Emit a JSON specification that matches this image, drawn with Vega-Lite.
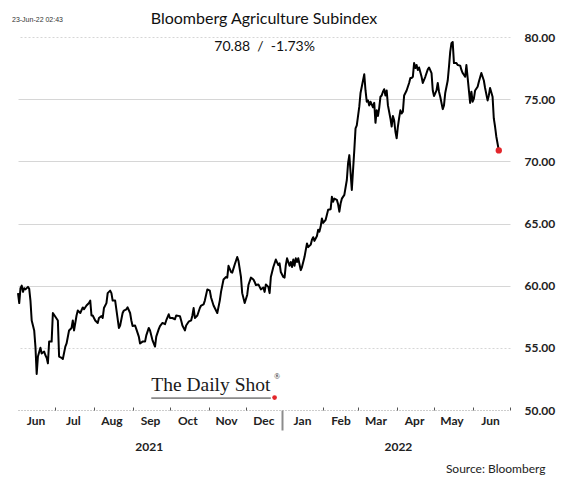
{
  "$schema": "https://vega.github.io/schema/vega-lite/v6.json",
  "width": 492,
  "height": 373,
  "autosize": {"type": "none"},
  "padding": {"left": 18, "top": 37, "right": 54, "bottom": 67},
  "background": "white",
  "config": {"view": {"stroke": null}, "font": "Lato"},
  "title": {"text": "Bloomberg Agriculture Subindex", "fontSize": 16, "fontWeight": "normal", "font": "Lato", "color": "#111", "anchor": "middle", "frame": "group", "baseline": "alphabetic", "offset": -24},
  "data": {"values": [
    {"date": "2021-06-01", "value": 59.4}, {"date": "2021-06-02", "value": 58.6}, {"date": "2021-06-03", "value": 59.8}, {"date": "2021-06-04", "value": 60.0}, {"date": "2021-06-05", "value": 59.5}, {"date": "2021-06-06", "value": 59.8}, {"date": "2021-06-07", "value": 59.7}, {"date": "2021-06-09", "value": 59.9}, {"date": "2021-06-10", "value": 59.75}, {"date": "2021-06-11", "value": 58.8}, {"date": "2021-06-12", "value": 57.2}, {"date": "2021-06-14", "value": 56.4}, {"date": "2021-06-15", "value": 55.1}, {"date": "2021-06-16", "value": 52.9}, {"date": "2021-06-17", "value": 54.3}, {"date": "2021-06-19", "value": 55.0}, {"date": "2021-06-20", "value": 54.55}, {"date": "2021-06-22", "value": 54.7}, {"date": "2021-06-23", "value": 54.4}, {"date": "2021-06-24", "value": 54.2}, {"date": "2021-06-25", "value": 53.75}, {"date": "2021-06-26", "value": 55.5}, {"date": "2021-06-28", "value": 55.5}, {"date": "2021-06-29", "value": 57.8},
    {"date": "2021-07-01", "value": 57.5}, {"date": "2021-07-03", "value": 57.2}, {"date": "2021-07-04", "value": 54.3}, {"date": "2021-07-06", "value": 54.2}, {"date": "2021-07-07", "value": 54.1}, {"date": "2021-07-09", "value": 55.1}, {"date": "2021-07-10", "value": 55.35}, {"date": "2021-07-12", "value": 56.4}, {"date": "2021-07-14", "value": 56.6}, {"date": "2021-07-15", "value": 57.2}, {"date": "2021-07-16", "value": 56.4}, {"date": "2021-07-18", "value": 57.6}, {"date": "2021-07-19", "value": 58.0}, {"date": "2021-07-21", "value": 57.8}, {"date": "2021-07-23", "value": 58.25}, {"date": "2021-07-24", "value": 58.1}, {"date": "2021-07-26", "value": 58.4}, {"date": "2021-07-28", "value": 58.6}, {"date": "2021-07-29", "value": 58.8}, {"date": "2021-07-30", "value": 57.6}, {"date": "2021-07-31", "value": 57.6},
    {"date": "2021-08-02", "value": 57.2}, {"date": "2021-08-04", "value": 57.0}, {"date": "2021-08-05", "value": 57.4}, {"date": "2021-08-07", "value": 57.55}, {"date": "2021-08-08", "value": 57.4}, {"date": "2021-08-09", "value": 58.2}, {"date": "2021-08-11", "value": 58.6}, {"date": "2021-08-12", "value": 59.4}, {"date": "2021-08-14", "value": 59.6}, {"date": "2021-08-15", "value": 59.4}, {"date": "2021-08-16", "value": 58.8}, {"date": "2021-08-18", "value": 58.8}, {"date": "2021-08-21", "value": 56.6}, {"date": "2021-08-22", "value": 56.8}, {"date": "2021-08-24", "value": 57.8}, {"date": "2021-08-25", "value": 58.0}, {"date": "2021-08-27", "value": 58.1}, {"date": "2021-08-28", "value": 58.25}, {"date": "2021-08-30", "value": 57.8}, {"date": "2021-08-31", "value": 57.2},
    {"date": "2021-09-01", "value": 56.75}, {"date": "2021-09-03", "value": 56.8}, {"date": "2021-09-04", "value": 56.5}, {"date": "2021-09-06", "value": 55.9}, {"date": "2021-09-07", "value": 55.35}, {"date": "2021-09-09", "value": 55.5}, {"date": "2021-09-11", "value": 55.5}, {"date": "2021-09-12", "value": 56.0}, {"date": "2021-09-14", "value": 56.6}, {"date": "2021-09-15", "value": 56.4}, {"date": "2021-09-17", "value": 55.6}, {"date": "2021-09-19", "value": 55.1}, {"date": "2021-09-20", "value": 55.9}, {"date": "2021-09-22", "value": 56.5}, {"date": "2021-09-23", "value": 56.75}, {"date": "2021-09-25", "value": 57.0}, {"date": "2021-09-27", "value": 56.9}, {"date": "2021-09-28", "value": 57.2}, {"date": "2021-09-30", "value": 57.7},
    {"date": "2021-10-01", "value": 57.4}, {"date": "2021-10-03", "value": 57.4}, {"date": "2021-10-05", "value": 57.3}, {"date": "2021-10-06", "value": 57.6}, {"date": "2021-10-09", "value": 57.55}, {"date": "2021-10-10", "value": 57.2}, {"date": "2021-10-11", "value": 56.8}, {"date": "2021-10-13", "value": 56.4}, {"date": "2021-10-14", "value": 56.8}, {"date": "2021-10-16", "value": 57.1}, {"date": "2021-10-18", "value": 57.2}, {"date": "2021-10-19", "value": 57.6}, {"date": "2021-10-20", "value": 58.2}, {"date": "2021-10-21", "value": 57.4}, {"date": "2021-10-23", "value": 57.6}, {"date": "2021-10-25", "value": 58.2}, {"date": "2021-10-26", "value": 58.4}, {"date": "2021-10-28", "value": 58.5}, {"date": "2021-10-29", "value": 58.8}, {"date": "2021-10-31", "value": 59.7},
    {"date": "2021-11-02", "value": 59.6}, {"date": "2021-11-03", "value": 59.05}, {"date": "2021-11-05", "value": 58.4}, {"date": "2021-11-07", "value": 58.0}, {"date": "2021-11-08", "value": 57.8}, {"date": "2021-11-10", "value": 58.8}, {"date": "2021-11-11", "value": 59.5}, {"date": "2021-11-13", "value": 60.5}, {"date": "2021-11-15", "value": 60.7}, {"date": "2021-11-16", "value": 60.65}, {"date": "2021-11-17", "value": 61.6}, {"date": "2021-11-19", "value": 61.1}, {"date": "2021-11-20", "value": 61.05}, {"date": "2021-11-22", "value": 61.7}, {"date": "2021-11-24", "value": 62.3}, {"date": "2021-11-25", "value": 62.0}, {"date": "2021-11-27", "value": 60.7}, {"date": "2021-11-28", "value": 59.4}, {"date": "2021-11-30", "value": 58.6},
    {"date": "2021-12-02", "value": 59.25}, {"date": "2021-12-03", "value": 60.05}, {"date": "2021-12-05", "value": 60.65}, {"date": "2021-12-07", "value": 60.5}, {"date": "2021-12-08", "value": 60.3}, {"date": "2021-12-09", "value": 60.05}, {"date": "2021-12-11", "value": 60.1}, {"date": "2021-12-12", "value": 59.9}, {"date": "2021-12-13", "value": 59.7}, {"date": "2021-12-15", "value": 59.85}, {"date": "2021-12-16", "value": 59.5}, {"date": "2021-12-17", "value": 60.1}, {"date": "2021-12-19", "value": 59.9}, {"date": "2021-12-20", "value": 59.4}, {"date": "2021-12-21", "value": 60.7}, {"date": "2021-12-23", "value": 61.5}, {"date": "2021-12-24", "value": 61.8}, {"date": "2021-12-25", "value": 62.1}, {"date": "2021-12-27", "value": 61.65}, {"date": "2021-12-28", "value": 61.8}, {"date": "2021-12-29", "value": 61.1}, {"date": "2021-12-31", "value": 60.7},
    {"date": "2022-01-01", "value": 60.65}, {"date": "2022-01-02", "value": 61.65}, {"date": "2022-01-03", "value": 62.2}, {"date": "2022-01-05", "value": 61.6}, {"date": "2022-01-06", "value": 61.9}, {"date": "2022-01-07", "value": 61.5}, {"date": "2022-01-08", "value": 62.1}, {"date": "2022-01-09", "value": 61.6}, {"date": "2022-01-10", "value": 62.2}, {"date": "2022-01-11", "value": 61.9}, {"date": "2022-01-12", "value": 62.2}, {"date": "2022-01-14", "value": 61.25}, {"date": "2022-01-15", "value": 61.5}, {"date": "2022-01-17", "value": 62.3}, {"date": "2022-01-19", "value": 63.4}, {"date": "2022-01-20", "value": 63.1}, {"date": "2022-01-22", "value": 63.3}, {"date": "2022-01-23", "value": 63.7}, {"date": "2022-01-24", "value": 63.9}, {"date": "2022-01-25", "value": 63.6}, {"date": "2022-01-27", "value": 64.0}, {"date": "2022-01-28", "value": 64.5}, {"date": "2022-01-29", "value": 64.35}, {"date": "2022-01-30", "value": 64.75}, {"date": "2022-01-31", "value": 65.4},
    {"date": "2022-02-01", "value": 65.05}, {"date": "2022-02-03", "value": 65.3}, {"date": "2022-02-04", "value": 65.7}, {"date": "2022-02-05", "value": 66.1}, {"date": "2022-02-07", "value": 66.15}, {"date": "2022-02-08", "value": 67.15}, {"date": "2022-02-09", "value": 66.75}, {"date": "2022-02-10", "value": 67.0}, {"date": "2022-02-12", "value": 66.9}, {"date": "2022-02-13", "value": 66.55}, {"date": "2022-02-14", "value": 65.95}, {"date": "2022-02-15", "value": 66.6}, {"date": "2022-02-16", "value": 67.0}, {"date": "2022-02-18", "value": 67.3}, {"date": "2022-02-20", "value": 68.5}, {"date": "2022-02-21", "value": 69.85}, {"date": "2022-02-22", "value": 70.5}, {"date": "2022-02-24", "value": 67.7}, {"date": "2022-02-25", "value": 69.3}, {"date": "2022-02-26", "value": 70.9}, {"date": "2022-02-27", "value": 72.65}, {"date": "2022-02-28", "value": 72.9},
    {"date": "2022-03-02", "value": 74.4}, {"date": "2022-03-03", "value": 75.5}, {"date": "2022-03-05", "value": 76.5}, {"date": "2022-03-06", "value": 77.0}, {"date": "2022-03-07", "value": 75.7}, {"date": "2022-03-08", "value": 74.8}, {"date": "2022-03-09", "value": 74.9}, {"date": "2022-03-10", "value": 74.5}, {"date": "2022-03-11", "value": 74.8}, {"date": "2022-03-13", "value": 74.35}, {"date": "2022-03-14", "value": 74.7}, {"date": "2022-03-15", "value": 73.1}, {"date": "2022-03-16", "value": 74.1}, {"date": "2022-03-17", "value": 73.65}, {"date": "2022-03-18", "value": 74.3}, {"date": "2022-03-19", "value": 75.2}, {"date": "2022-03-20", "value": 75.3}, {"date": "2022-03-21", "value": 75.6}, {"date": "2022-03-22", "value": 75.8}, {"date": "2022-03-23", "value": 75.3}, {"date": "2022-03-24", "value": 75.7}, {"date": "2022-03-25", "value": 74.5}, {"date": "2022-03-27", "value": 73.45}, {"date": "2022-03-28", "value": 72.8}, {"date": "2022-03-29", "value": 73.65}, {"date": "2022-03-30", "value": 73.3}, {"date": "2022-03-31", "value": 72.4},
    {"date": "2022-04-01", "value": 71.85}, {"date": "2022-04-02", "value": 72.8}, {"date": "2022-04-03", "value": 73.5}, {"date": "2022-04-04", "value": 74.1}, {"date": "2022-04-05", "value": 73.85}, {"date": "2022-04-06", "value": 74.0}, {"date": "2022-04-07", "value": 75.3}, {"date": "2022-04-08", "value": 75.5}, {"date": "2022-04-09", "value": 75.7}, {"date": "2022-04-11", "value": 76.3}, {"date": "2022-04-12", "value": 76.7}, {"date": "2022-04-13", "value": 76.7}, {"date": "2022-04-14", "value": 76.8}, {"date": "2022-04-15", "value": 77.9}, {"date": "2022-04-16", "value": 77.5}, {"date": "2022-04-17", "value": 77.75}, {"date": "2022-04-18", "value": 77.35}, {"date": "2022-04-19", "value": 77.55}, {"date": "2022-04-21", "value": 76.8}, {"date": "2022-04-22", "value": 76.3}, {"date": "2022-04-24", "value": 76.8}, {"date": "2022-04-26", "value": 77.4}, {"date": "2022-04-27", "value": 77.55}, {"date": "2022-04-29", "value": 77.1}, {"date": "2022-04-30", "value": 75.7},
    {"date": "2022-05-01", "value": 75.25}, {"date": "2022-05-03", "value": 75.7}, {"date": "2022-05-04", "value": 76.3}, {"date": "2022-05-05", "value": 75.6}, {"date": "2022-05-06", "value": 75.2}, {"date": "2022-05-08", "value": 74.2}, {"date": "2022-05-09", "value": 74.5}, {"date": "2022-05-10", "value": 75.5}, {"date": "2022-05-12", "value": 76.5}, {"date": "2022-05-13", "value": 77.6}, {"date": "2022-05-14", "value": 78.8}, {"date": "2022-05-15", "value": 79.5}, {"date": "2022-05-16", "value": 79.6}, {"date": "2022-05-17", "value": 77.9}, {"date": "2022-05-19", "value": 77.9}, {"date": "2022-05-20", "value": 77.75}, {"date": "2022-05-22", "value": 77.7}, {"date": "2022-05-23", "value": 77.35}, {"date": "2022-05-24", "value": 77.1}, {"date": "2022-05-26", "value": 76.8}, {"date": "2022-05-27", "value": 77.75}, {"date": "2022-05-29", "value": 75.7}, {"date": "2022-05-30", "value": 74.7}, {"date": "2022-05-31", "value": 75.6},
    {"date": "2022-06-01", "value": 74.8}, {"date": "2022-06-02", "value": 75.05}, {"date": "2022-06-03", "value": 75.7}, {"date": "2022-06-05", "value": 76.0}, {"date": "2022-06-06", "value": 76.4}, {"date": "2022-06-08", "value": 77.1}, {"date": "2022-06-10", "value": 76.5}, {"date": "2022-06-11", "value": 75.9}, {"date": "2022-06-13", "value": 74.9}, {"date": "2022-06-14", "value": 75.3}, {"date": "2022-06-15", "value": 75.9}, {"date": "2022-06-17", "value": 75.2}, {"date": "2022-06-18", "value": 73.45}, {"date": "2022-06-19", "value": 72.8}, {"date": "2022-06-20", "value": 72.0}, {"date": "2022-06-22", "value": 70.88}
  ]},
  "resolve": {"axis": {"x": "independent"}},
  "layer": [
    {
      "mark": {"type": "line", "color": "black", "strokeWidth": 2, "strokeJoin": "round"},
      "encoding": {
        "x": {
          "field": "date", "type": "temporal",
          "scale": {"type": "utc", "domain": [{"year": 2021, "month": 6, "date": 1, "utc": true}, {"year": 2022, "month": 7, "date": 1, "utc": true}]},
          "axis": {
            "orient": "bottom", "title": null, "format": "%b", "ticks": false, "grid": false,
            "values": [
              {"year": 2021, "month": 6, "date": 15, "utc": true}, {"year": 2021, "month": 7, "date": 15, "utc": true}, {"year": 2021, "month": 8, "date": 15, "utc": true}, {"year": 2021, "month": 9, "date": 15, "utc": true}, {"year": 2021, "month": 10, "date": 15, "utc": true}, {"year": 2021, "month": 11, "date": 15, "utc": true}, {"year": 2021, "month": 12, "date": 15, "utc": true},
              {"year": 2022, "month": 1, "date": 15, "utc": true}, {"year": 2022, "month": 2, "date": 15, "utc": true}, {"year": 2022, "month": 3, "date": 15, "utc": true}, {"year": 2022, "month": 4, "date": 15, "utc": true}, {"year": 2022, "month": 5, "date": 15, "utc": true}, {"year": 2022, "month": 6, "date": 15, "utc": true}
            ],
            "domainColor": "#9a9a9a", "domainDash": [1, 2], "domainWidth": 1,
            "labelFont": "Lato", "labelFontWeight": "bold", "labelFontSize": 12, "labelColor": "#222",
            "labelPadding": 5, "labelAngle": 0, "labelFlush": false, "labelOverlap": false
          }
        },
        "y": {
          "field": "value", "type": "quantitative",
          "scale": {"domain": [50, 80], "zero": false, "nice": false},
          "axis": {
            "orient": "right", "title": null, "values": [50, 55, 60, 65, 70, 75, 80], "format": ".2f",
            "ticks": false, "domain": false, "grid": true, "gridColor": "#d6d6d6",
            "gridOpacity": {"condition": {"test": "datum.value == 50", "value": 0}, "value": 1},
            "gridDash": {"condition": {"test": "datum.value == 80 || datum.value == 55", "value": [2, 2]}, "value": []},
            "labelPadding": 14, "labelFont": "Lato", "labelFontWeight": "bold", "labelFontSize": 12, "labelColor": "#222"
          }
        }
      }
    },
    {
      "transform": [{"filter": "datum.value == 70.88"}],
      "mark": {"type": "point", "filled": true, "color": "#e3262b", "size": 40, "opacity": 1},
      "encoding": {
        "x": {
          "field": "date", "type": "temporal",
          "axis": {
            "orient": "bottom", "title": null, "labels": false, "domain": false, "grid": false,
            "tickSize": -3, "tickColor": "#555", "tickWidth": 1,
            "values": [
              {"year": 2021, "month": 7, "date": 1, "utc": true}, {"year": 2021, "month": 8, "date": 1, "utc": true}, {"year": 2021, "month": 9, "date": 1, "utc": true}, {"year": 2021, "month": 10, "date": 1, "utc": true}, {"year": 2021, "month": 11, "date": 1, "utc": true}, {"year": 2021, "month": 12, "date": 1, "utc": true},
              {"year": 2022, "month": 2, "date": 1, "utc": true}, {"year": 2022, "month": 3, "date": 1, "utc": true}, {"year": 2022, "month": 4, "date": 1, "utc": true}, {"year": 2022, "month": 5, "date": 1, "utc": true}, {"year": 2022, "month": 6, "date": 1, "utc": true}, {"year": 2022, "month": 7, "date": 1, "utc": true}
            ]
          }
        },
        "y": {"field": "value", "type": "quantitative"}
      }
    },
    {
      "data": {"values": [{"label": "70.88\u00a0\u00a0/\u00a0\u00a0-1.73%"}]},
      "mark": {"type": "text", "font": "Lato", "fontSize": 14, "color": "#111", "align": "center", "baseline": "middle"},
      "encoding": {
        "x": {
          "datum": {"year": 2021, "month": 12, "date": 16, "utc": true}, "type": "temporal",
          "axis": {
            "orient": "bottom", "title": null, "labels": false, "domain": false, "grid": false,
            "tickSize": 20, "tickColor": "#8c8c8c", "tickWidth": 2, "tickOffset": -3,
            "values": [{"year": 2022, "month": 1, "date": 1, "utc": true}]
          }
        },
        "y": {"datum": 79.2},
        "text": {"field": "label"}
      }
    },
    {
      "data": {"values": [{"label": "23-Jun-22 02:43"}]},
      "mark": {"type": "text", "font": "Liberation Sans", "fontSize": 7, "color": "#333", "align": "left", "baseline": "middle", "dx": -6},
      "encoding": {
        "x": {
          "datum": {"year": 2021, "month": 6, "date": 1, "utc": true}, "type": "temporal",
          "axis": {
            "orient": "bottom", "format": "%Y", "ticks": false, "domain": false, "grid": false,
            "values": [{"year": 2021, "month": 9, "date": 14, "utc": true}, {"year": 2022, "month": 4, "date": 2, "utc": true}],
            "labelPadding": 31, "labelFont": "Lato", "labelFontWeight": "bold", "labelFontSize": 12, "labelColor": "#222",
            "title": "Source: Bloomberg", "titleFont": "Lato", "titleFontWeight": "normal", "titleFontSize": 12, "titleColor": "#222",
            "titleAnchor": "end", "titleAlign": "right", "titleBaseline": "middle", "titleX": 527, "titleY": 58
          }
        },
        "y": {"datum": 81.4},
        "text": {"field": "label"}
      }
    },
    {
      "data": {"values": [{"label": "The Daily Shot"}]},
      "mark": {"type": "text", "font": "Liberation Serif", "fontSize": 19.5, "color": "#1a1a1a", "align": "left", "baseline": "alphabetic"},
      "encoding": {
        "x": {"datum": {"year": 2021, "month": 9, "date": 16, "utc": true}, "type": "temporal", "axis": null},
        "y": {"datum": 51.52},
        "text": {"field": "label"}
      }
    },
    {
      "data": {"values": [{"label": "®"}]},
      "mark": {"type": "text", "font": "Liberation Serif", "fontSize": 8, "color": "#1a1a1a", "align": "center", "baseline": "middle"},
      "encoding": {
        "x": {"datum": {"year": 2021, "month": 12, "date": 26, "utc": true}, "type": "temporal", "axis": null},
        "y": {"datum": 52.65},
        "text": {"field": "label"}
      }
    },
    {
      "data": {"values": [{"label": "underline"}]},
      "mark": {"type": "rule", "color": "#333", "strokeWidth": 1},
      "encoding": {
        "x": {"datum": {"year": 2021, "month": 9, "date": 16, "utc": true}, "type": "temporal", "axis": null},
        "x2": {"datum": {"year": 2021, "month": 12, "date": 21, "utc": true}},
        "y": {"datum": 50.96}
      }
    },
    {
      "data": {"values": [{"label": "dot"}]},
      "mark": {"type": "point", "filled": true, "color": "#e3262b", "size": 22, "opacity": 1},
      "encoding": {
        "x": {"datum": {"year": 2021, "month": 12, "date": 24, "utc": true}, "type": "temporal", "axis": null},
        "y": {"datum": 51.0}
      }
    }
  ]
}
